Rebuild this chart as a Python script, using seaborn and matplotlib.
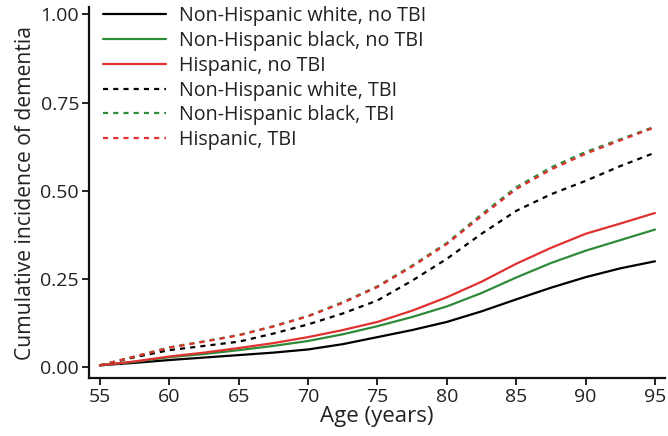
import matplotlib
matplotlib.use("Agg")
import matplotlib.pyplot as plt
import matplotlib.ticker as mticker
import seaborn as sns
import pandas as pd

sns.set_theme(style="ticks")
plt.rcParams["font.family"] = ["Open Sans", "DejaVu Sans"]

# ---------------------------------------------------------------------------
# Data
# ---------------------------------------------------------------------------
age = [55, 57.5, 60, 62.5, 65, 67.5, 70, 72.5, 75, 77.5, 80, 82.5, 85, 87.5, 90, 92.5, 95]

white_no_tbi = [0.005, 0.012, 0.020, 0.027, 0.034, 0.041, 0.050, 0.065, 0.085, 0.105,
                0.128, 0.158, 0.192, 0.225, 0.255, 0.280, 0.300]
black_no_tbi = [0.005, 0.015, 0.028, 0.037, 0.048, 0.060, 0.074, 0.093, 0.116, 0.142,
                0.172, 0.210, 0.254, 0.295, 0.330, 0.360, 0.390]
hisp_no_tbi = [0.005, 0.016, 0.030, 0.041, 0.054, 0.068, 0.085, 0.105, 0.128, 0.160,
               0.198, 0.242, 0.293, 0.338, 0.378, 0.407, 0.437]
white_tbi = [0.005, 0.028, 0.048, 0.060, 0.072, 0.095, 0.121, 0.152, 0.189, 0.245,
             0.307, 0.378, 0.443, 0.490, 0.528, 0.570, 0.608]
black_tbi = [0.005, 0.030, 0.056, 0.073, 0.091, 0.116, 0.145, 0.184, 0.229, 0.288,
             0.352, 0.433, 0.510, 0.566, 0.610, 0.646, 0.682]
hisp_tbi = [0.005, 0.030, 0.055, 0.072, 0.090, 0.115, 0.144, 0.182, 0.227, 0.285,
            0.349, 0.428, 0.505, 0.560, 0.605, 0.643, 0.680]

series = [
    ("Non-Hispanic white, no TBI", white_no_tbi, "#000000", "-"),
    ("Non-Hispanic black, no TBI", black_no_tbi, "#2e8b3a", "-"),
    ("Hispanic, no TBI", hisp_no_tbi, "#e03131", "-"),
    ("Non-Hispanic white, TBI", white_tbi, "#000000", "--"),
    ("Non-Hispanic black, TBI", black_tbi, "#2e8b3a", "--"),
    ("Hispanic, TBI", hisp_tbi, "#e03131", "--"),
]

# ---------------------------------------------------------------------------
# Plot
# ---------------------------------------------------------------------------
fig = plt.figure(figsize=(6.68, 4.36), dpi=100)
ax = fig.add_axes([0.133, 0.133, 0.862, 0.85])

for label, values, color, ls in series:
    df = pd.DataFrame({"age": age, "cum": values})
    sns.lineplot(data=df, x="age", y="cum", color=color, linestyle=ls, linewidth=1.6,
                 label=label, ax=ax)
for line in ax.get_lines():
    if line.get_linestyle() == "--":
        line.set_dashes((2.3, 2.3))

ax.set_xlim(54.2, 95.7)
ax.set_ylim(-0.031, 1.02)
ax.set_xticks(range(55, 96, 5))
ax.set_yticks([0, 0.25, 0.5, 0.75, 1.0])
ax.yaxis.set_major_formatter(mticker.FormatStrFormatter("%.2f"))
ax.tick_params(labelsize=14, length=5, width=1.4, colors="#222222", pad=2)
ax.set_xlabel("Age (years)", fontsize=16, color="#222222", labelpad=0)
ax.set_ylabel("Cumulative incidence of dementia", fontsize=15.2, color="#222222", labelpad=3)
sns.despine(ax=ax)
for sp in ("left", "bottom"):
    ax.spines[sp].set_linewidth(1.6)
    ax.spines[sp].set_color("#111111")

leg = ax.legend(loc="upper left", bbox_to_anchor=(0.0, 1.04), frameon=False, fontsize=14.2,
                handlelength=3.2, handletextpad=0.65, labelspacing=0.24, borderaxespad=0.3)
for t in leg.get_texts():
    t.set_color("#222222")
for h in leg.get_lines():
    if h.get_linestyle() == "--":
        h.set_dashes((2.3, 2.3))

fig.savefig("out.png", dpi=100)
